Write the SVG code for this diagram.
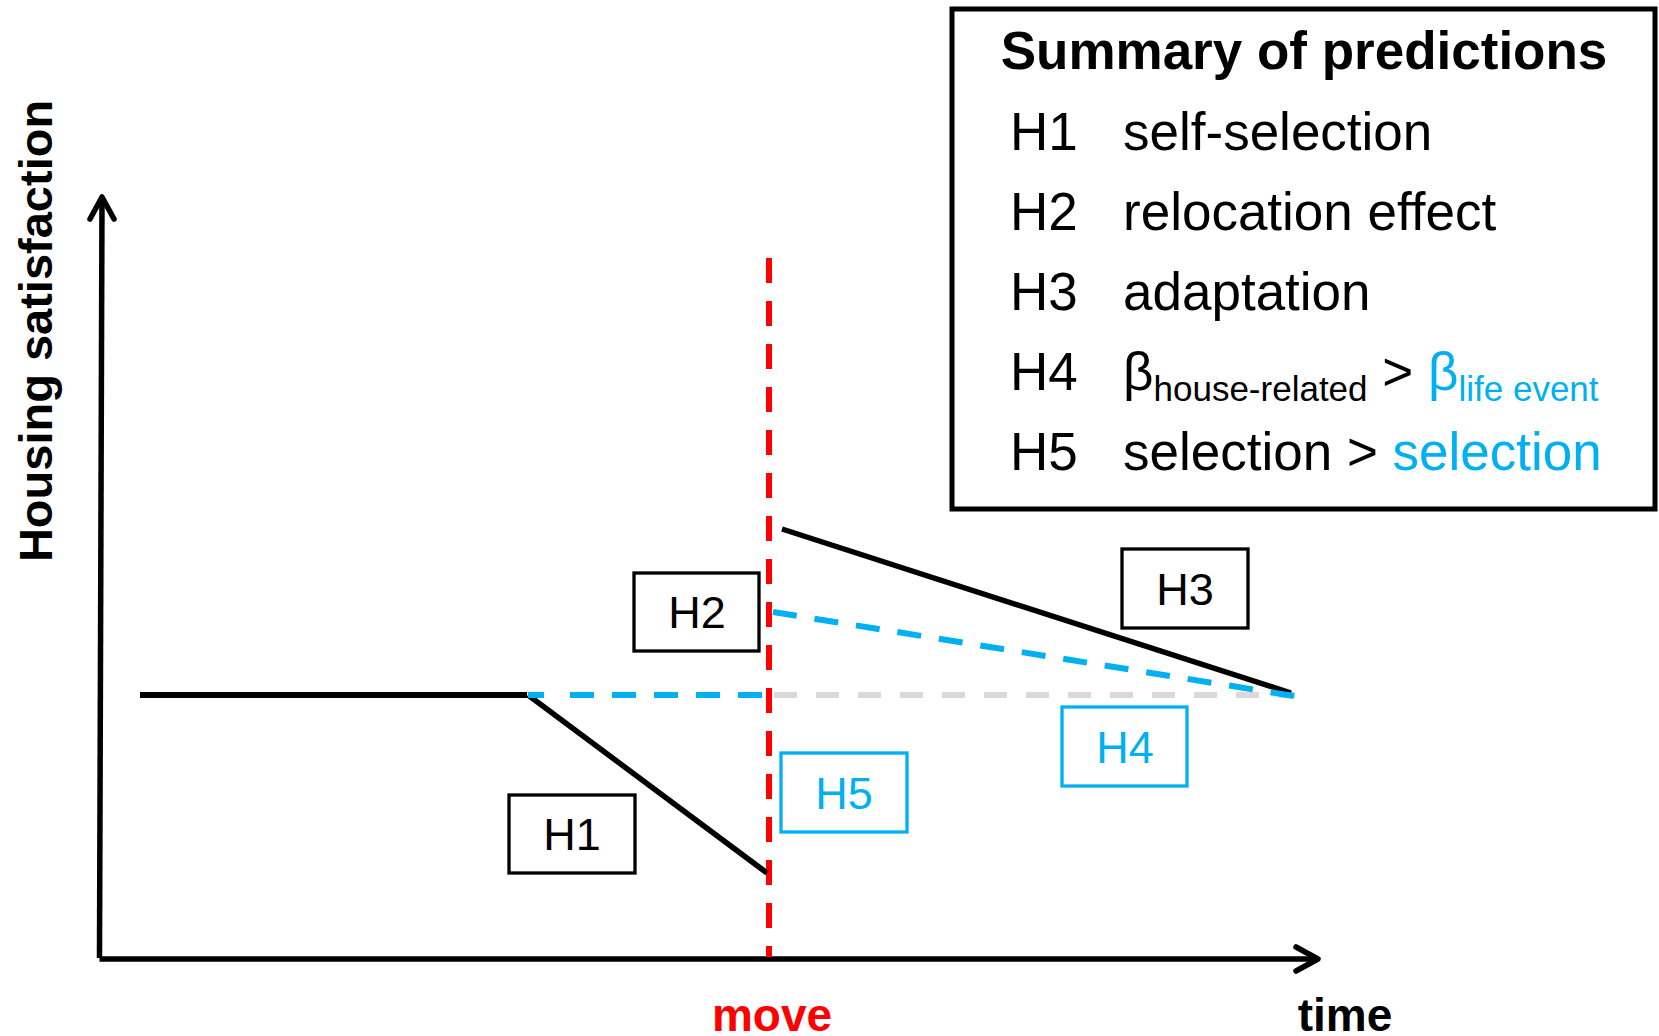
<svg xmlns="http://www.w3.org/2000/svg" width="1659" height="1036" viewBox="0 0 1659 1036">
<style>
text{font-family:"Liberation Sans",Arial,sans-serif;}
.box{fill:#fff;stroke-width:3.3;}
.k{stroke:#000;}
.b{stroke:#00B0F0;}
.lab{font-size:45px;text-anchor:middle;}
.row{font-size:53px;fill:#000;}
.sub{font-size:35px;}
.blue{fill:#00B0F0;}
.ax{stroke:#000;stroke-width:5.5;fill:none;stroke-linecap:round;stroke-linejoin:round;}
</style>
<rect width="1659" height="1036" fill="#fff"/>
<g id="axes">
<line class="ax" x1="102" y1="198" x2="99.5" y2="958" style="stroke-linecap:butt"/>
<polyline class="ax" points="90,219 102,197 114,219"/>
<line class="ax" x1="99.5" y1="959" x2="1316" y2="959" style="stroke-linecap:butt"/>
<polyline class="ax" points="1296,947 1318,959 1296,971"/>
</g>
<g id="connectors" fill="none">
<line x1="769" y1="258" x2="769" y2="957" stroke="#FF0000" stroke-width="6" stroke-dasharray="25 18"/>
<line x1="774" y1="695" x2="1295" y2="695" stroke="#D9D9D9" stroke-width="6" stroke-dasharray="23 19"/>
<line x1="140" y1="695" x2="527" y2="695" stroke="#000" stroke-width="6"/>
<line x1="528" y1="695" x2="767" y2="873" stroke="#000" stroke-width="5.5"/>
<line x1="528" y1="695" x2="767" y2="695" stroke="#00B0F0" stroke-width="6" stroke-dasharray="16 26 24 18 24 18 24 18 24 18 24 18"/>
<line x1="782" y1="529" x2="1291" y2="693" stroke="#000" stroke-width="5.5"/>
<line x1="773" y1="612" x2="1294" y2="696" stroke="#00B0F0" stroke-width="6" stroke-dasharray="24 18"/>
</g>
<g id="H1">
<rect class="box k" x="509" y="795" width="126" height="78"/>
<text class="lab" x="572" y="850">H1</text>
</g>
<g id="H2">
<rect class="box k" x="634" y="573" width="125" height="78"/>
<text class="lab" x="697" y="628">H2</text>
</g>
<g id="H3">
<rect class="box k" x="1122" y="549" width="126" height="79"/>
<text class="lab" x="1185" y="605">H3</text>
</g>
<g id="H4">
<rect class="box b" x="1062" y="707" width="125" height="79"/>
<text class="lab blue" x="1125" y="763">H4</text>
</g>
<g id="H5">
<rect class="box b" x="781" y="753" width="126" height="79"/>
<text class="lab blue" x="844" y="809">H5</text>
</g>
<g id="labels">
<text x="52" y="331" font-size="47" font-weight="bold" text-anchor="middle" transform="rotate(-90 52 331)">Housing satisfaction</text>
<text x="772" y="1031" font-size="46" font-weight="bold" fill="#FF0000" text-anchor="middle">move</text>
<text x="1345" y="1031" font-size="46" font-weight="bold" text-anchor="middle">time</text>
</g>
<g id="summary">
<rect x="952" y="9" width="703" height="500" fill="#fff" stroke="#000" stroke-width="5"/>
<text x="1304" y="69" font-size="53" font-weight="bold" text-anchor="middle">Summary of predictions</text>
<text class="row" x="1010" y="150">H1</text>
<text class="row" x="1123" y="150">self-selection</text>
<text class="row" x="1010" y="230">H2</text>
<text class="row" x="1123" y="230">relocation effect</text>
<text class="row" x="1010" y="310">H3</text>
<text class="row" x="1123" y="310">adaptation</text>
<text class="row" x="1010" y="390">H4</text>
<text class="row" x="1123" y="390">β<tspan class="sub" dy="11">house-related</tspan><tspan dy="-11"> &gt; </tspan><tspan class="blue">β</tspan><tspan class="sub blue" dy="11">life event</tspan></text>
<text class="row" x="1010" y="470">H5</text>
<text class="row" x="1123" y="470">selection &gt; <tspan class="blue">selection</tspan></text>
</g>
</svg>
